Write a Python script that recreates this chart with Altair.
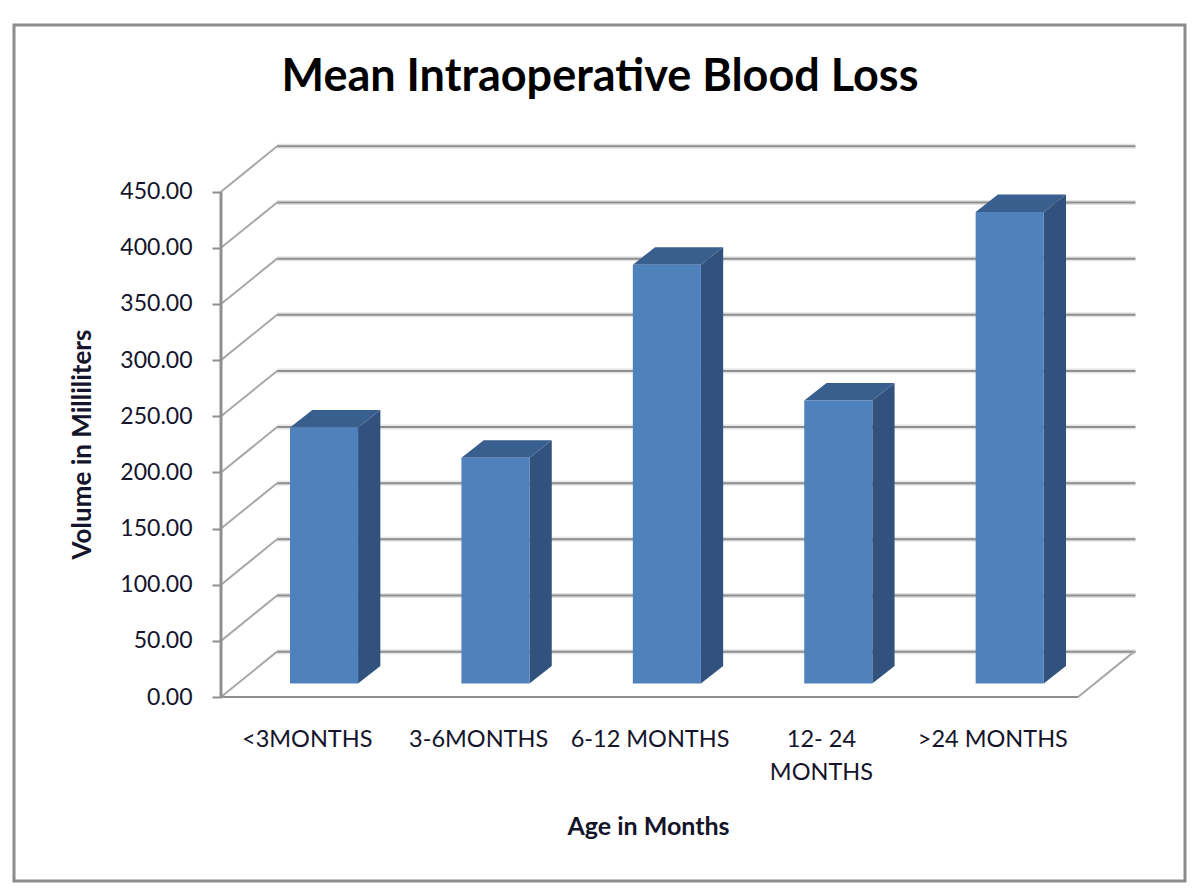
import json
import altair as alt
import pandas as pd

categories = ["<3MONTHS", "3-6MONTHS", "6-12 MONTHS", ["12- 24", "MONTHS"], ">24 MONTHS"]
blood_loss = [228, 201, 373, 252, 420]
y_ticks = [0, 50, 100, 150, 200, 250, 300, 350, 400, 450]

WALL_DX, WALL_DY = 0.327, 40.4
BASE = 12.0
BAR_L, BAR_W = 0.4026, 0.397
BAR_DX, BAR_DY = 0.13, 15.6
N = len(categories)

xs = alt.Scale(domain=[0, 5.338], nice=False, zero=False)
ys = alt.Scale(domain=[0, 490.7], nice=False, zero=False)
GRID = "#8f8f8f"
FONT = "Lato"
TXT = "#14142b"

front = pd.DataFrame([
    {"xl": i + BAR_L, "xr": i + BAR_L + BAR_W, "y0": BASE, "y1": BASE + v}
    for i, v in enumerate(blood_loss)])
side = pd.DataFrame([r for i, v in enumerate(blood_loss) for r in (
    {"b": i, "x": i + BAR_L + BAR_W, "y0": BASE, "y1": BASE + v},
    {"b": i, "x": i + BAR_L + BAR_W + BAR_DX, "y0": BASE + BAR_DY, "y1": BASE + v + BAR_DY})])
top = pd.DataFrame([r for i, v in enumerate(blood_loss) for r in (
    {"b": i, "y": BASE + v, "xl": i + BAR_L, "xr": i + BAR_L + BAR_W},
    {"b": i, "y": BASE + v + BAR_DY, "xl": i + BAR_L + BAR_DX, "xr": i + BAR_L + BAR_W + BAR_DX})])
grid = pd.DataFrame({"x": WALL_DX, "x2": 5.335, "y": [t + WALL_DY for t in y_ticks]})
diag = pd.DataFrame([r for t in y_ticks for r in (
    {"k": t, "x": 0, "y": t}, {"k": t, "x": WALL_DX, "y": t + WALL_DY})]
    + [{"k": "r", "x": 5, "y": 0}, {"k": "r", "x": 5 + WALL_DX, "y": WALL_DY}])

labels_expr = json.dumps(categories) + "[floor(datum.value)]"

frame = alt.Chart(pd.DataFrame({"a": [0]})).mark_rect(
    fill="transparent", stroke="#8c8c8c", strokeWidth=3
).encode(x=alt.value(-207), x2=alt.value(964), y=alt.value(-121), y2=alt.value(735))

axes = alt.Chart(pd.DataFrame({"x": [0.5 + i for i in range(N)], "y": [0] * N})).mark_point(opacity=0).encode(
    x=alt.X("x:Q", scale=xs, title="Age in Months", axis=alt.Axis(
        values=[0.5 + i for i in range(N)], labelExpr=labels_expr, grid=False, domain=False, ticks=False,
        labelFont=FONT, labelFontSize=23.5, labelColor=TXT, labelPadding=42, labelLineHeight=33,
        labelBaseline="middle", labelOverlap=False, labelFlush=False, labelAngle=0,
        titleFont=FONT, titleFontSize=25, titleFontWeight="bold", titleColor=TXT,
        titleX=427, titleY=129, titleBaseline="middle")),
    y=alt.Y("y:Q", scale=ys, title="Volume in Milliliters", axis=alt.Axis(
        values=y_ticks, format=".2f", grid=False, domain=False, tickColor=GRID, tickWidth=2, tickSize=9,
        labelFont=FONT, labelFontSize=23, labelColor=TXT, labelPadding=20,
        titleFont=FONT, titleFontSize=26, titleFontWeight="bold", titleColor=TXT,
        titleX=-139, titleY=298, titleBaseline="middle")),
)

grid_shadow = alt.Chart(grid).mark_rule(color="#e4e4e4", strokeWidth=5).encode(
    x=alt.X("x:Q", scale=xs), x2="x2:Q", y=alt.Y("y:Q", scale=ys))
grid_l = alt.Chart(grid).mark_rule(color=GRID, strokeWidth=2).encode(
    x=alt.X("x:Q", scale=xs), x2="x2:Q", y=alt.Y("y:Q", scale=ys))
diag_l = alt.Chart(diag).mark_line(color="#a8a8a8", strokeWidth=2).encode(
    x=alt.X("x:Q", scale=xs), y=alt.Y("y:Q", scale=ys), detail="k:N")
y_line = alt.Chart(pd.DataFrame({"y": [0], "y2": [450]})).mark_rule(color=GRID, strokeWidth=3).encode(
    x=alt.datum(0, scale=xs), y=alt.Y("y:Q", scale=ys), y2="y2:Q")
floor = alt.Chart(pd.DataFrame({"x": [0], "x2": [5], "y": [0]})).mark_rule(color=GRID, strokeWidth=2).encode(
    x=alt.X("x:Q", scale=xs), x2="x2:Q", y=alt.Y("y:Q", scale=ys))

side_m = alt.Chart(side).mark_area(color="#30527c", opacity=1).encode(
    x=alt.X("x:Q", scale=xs), y=alt.Y("y1:Q", scale=ys), y2="y0:Q", detail="b:N")
top_m = alt.Chart(top).mark_area(color="#395f8e", orient="horizontal", opacity=1).encode(
    y=alt.Y("y:Q", scale=ys), x=alt.X("xl:Q", scale=xs), x2="xr:Q", detail="b:N")
front_m = alt.Chart(front).mark_rect(color="#4f81bd").encode(
    x=alt.X("xl:Q", scale=xs), x2="xr:Q", y=alt.Y("y0:Q", scale=ys), y2="y1:Q")

chart = alt.layer(
    frame, grid_shadow, grid_l, diag_l, y_line, floor, side_m, top_m, front_m, axes
).properties(
    width=915, height=551,
    background="white",
    title=alt.TitleParams("Mean Intraoperative Blood Loss", font=FONT, fontSize=45, fontWeight="bold",
                          color="#000000", anchor="middle", frame="group", dx=-78.5, dy=76, offset=0),
    autosize=alt.AutoSizeParams(type="none"),
    padding={"left": 213, "top": 138, "right": 54, "bottom": 186},
).configure_view(stroke=None)

chart.save("out.html", embed_options={"renderer": "svg", "actions": False})
